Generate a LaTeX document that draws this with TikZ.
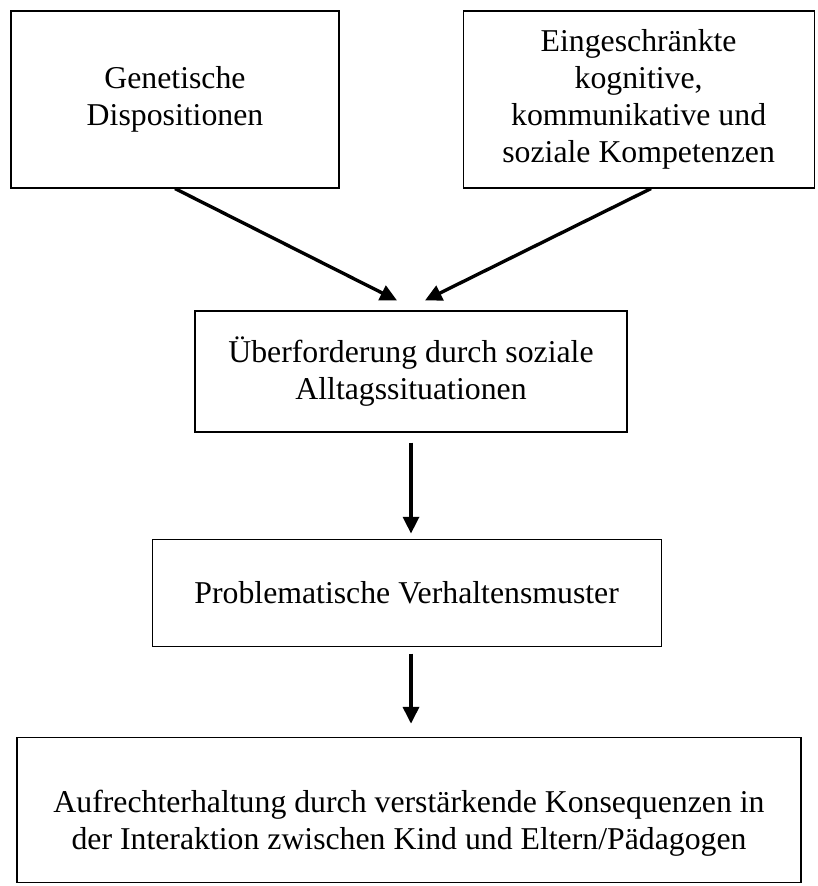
\documentclass[tikz,border=0pt]{standalone}
\usepackage{fontspec}
\setmainfont{Liberation Serif}
\usetikzlibrary{arrows.meta,positioning,calc}
\tikzset{
  >={Triangle[length=4.2mm,width=4mm]},
  flowbox/.style={draw=black,line width=0.8pt,align=center,inner sep=4pt,
                  font=\fontsize{22.6}{26.3}\selectfont},
  flowarrow/.style={->,line width=2.4pt,draw=black},
}

\begin{document}
\begin{tikzpicture}
  \useasboundingbox (0,0) rectangle (20.45,-22.15);
  % causes
  \node[flowbox,minimum width=8.2cm,minimum height=4.425cm] (gen) at (4.375,-2.4875) {Genetische\\Dispositionen};
  \node[flowbox,right=3.075cm of gen,minimum width=8.775cm,minimum height=4.425cm] (komp) {Eingeschränkte\\kognitive,\\kommunikative und\\soziale Kompetenzen};
  % chain
  \node[flowbox,minimum width=10.8cm,minimum height=3.025cm] (ueber) at (10.275,-9.2875) {Überforderung durch soziale\\Alltagssituationen};
  \node[flowbox,below=2.65cm of ueber,xshift=-0.11cm,minimum width=12.725cm,minimum height=2.675cm] (prob) {Problematische Verhaltensmuster};
  \node[flowbox,below=2.25cm of prob,xshift=0.06cm,minimum width=19.6cm,minimum height=3.625cm,text height=2.15cm] (auf) {Aufrechterhaltung durch verstärkende Konsequenzen in\\der Interaktion zwischen Kind und Eltern/Pädagogen};
  \coordinate (inL) at ($(ueber.north)+(-0.35,0.25)$);
  \coordinate (inR) at ($(ueber.north)+(0.35,0.25)$);
  \draw[flowarrow] (gen.south) -- (inL);
  \draw[flowarrow] ([xshift=0.31cm]komp.south) -- (inR);
  \draw[flowarrow,shorten <=0.25cm,shorten >=0.125cm] (ueber.south) -- (ueber.south |- prob.north);
  \draw[flowarrow,shorten <=0.175cm,shorten >=0.325cm] (ueber.south |- prob.south) -- (ueber.south |- auf.north);
\end{tikzpicture}
\end{document}
